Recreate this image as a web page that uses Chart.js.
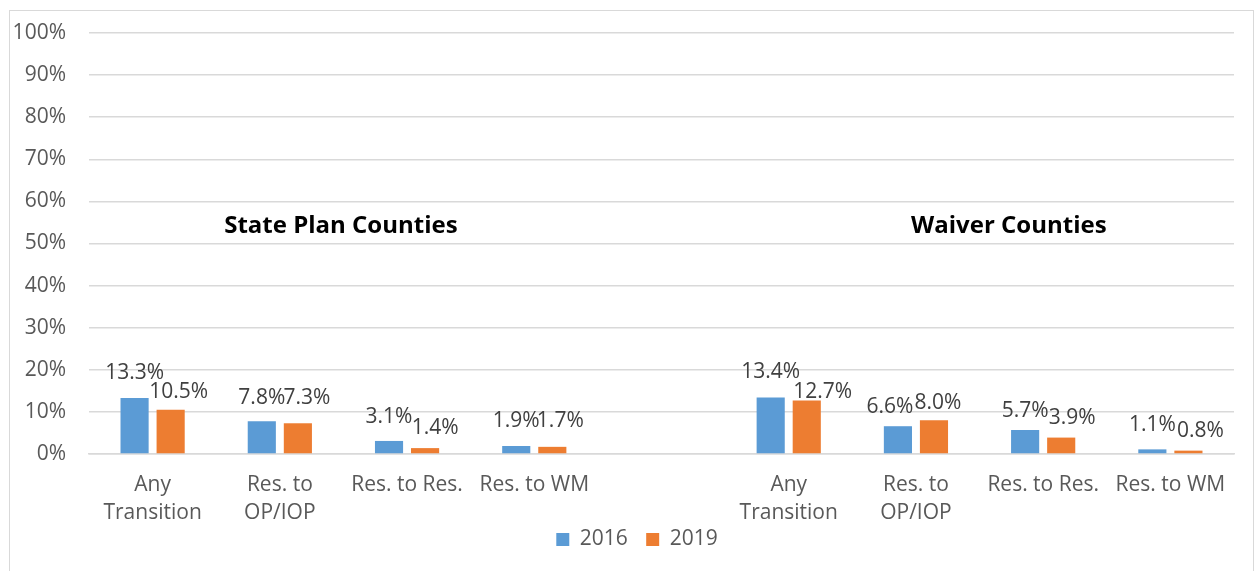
<!DOCTYPE html>
<html>
<head>
<meta charset="utf-8">
<script src="https://cdn.jsdelivr.net/npm/chart.js@4"></script>
<style>
  body { margin: 0; background: #fff; }
  #box { position: absolute; left: 9px; top: 10px; width: 1243px; height: 560px; border: 1px solid #d9d9d9; }
</style>
</head>
<body>
<div id="box"><canvas id="chart" width="1243" height="560"></canvas></div>
<script>
// categories (5th slot is the empty gap between the two groups)
const categories = [
  ["Any", "Transition"], ["Res. to", "OP/IOP"], "Res. to Res.", "Res. to WM",
  "",
  ["Any", "Transition"], ["Res. to", "OP/IOP"], "Res. to Res.", "Res. to WM"
];
const values2016 = [13.3, 7.8, 3.1, 1.9, null, 13.4, 6.6, 5.7, 1.1];
const values2019 = [10.5, 7.3, 1.4, 1.7, null, 12.7, 8.0, 3.9, 0.8];
const yTicks = [0, 10, 20, 30, 40, 50, 60, 70, 80, 90, 100];
const groupTitles = ["State Plan Counties", "Waiver Counties"];

const FONT = "'Open Sans', 'Noto Sans', sans-serif";

// label placement nudges [dx, height above bar top], as Excel shuffled them to avoid overlaps
const labelNudge = [
  [[0, 25], [0, 23], [0, 24], [0, 25], null, [0, 26], [-8, 19], [0, 19], [0, 24]],
  [[8, 18], [9, 25], [10, 20], [8, 26], null, [16, 9], [4, 17], [11, 20], [12, 20]]
];

// draws the percentage above each bar
const valueLabels = {
  id: 'valueLabels',
  afterDatasetsDraw(chart) {
    const ctx = chart.ctx;
    ctx.save();
    ctx.font = "21px " + FONT;
    ctx.fillStyle = "#404040";
    ctx.textAlign = "center";
    ctx.textBaseline = "middle";
    chart.data.datasets.forEach((ds, i) => {
      chart.getDatasetMeta(i).data.forEach((bar, j) => {
        if (ds.data[j] == null) return;
        const n = labelNudge[i][j] || [0, 22];
        ctx.fillText(ds.data[j].toFixed(1) + "%", bar.x + n[0], bar.y - n[1]);
      });
    });
    ctx.restore();
  }
};

// bold group titles inside the plot
const groupTitlePlugin = {
  id: 'groupTitles',
  afterDraw(chart) {
    const ctx = chart.ctx;
    const x = chart.scales.x, y = chart.scales.y;
    const at = (idx) => {
      const a = Math.floor(idx);
      const p0 = x.getPixelForTick(a), p1 = x.getPixelForTick(a + 1);
      return p0 + (p1 - p0) * (idx - a);
    };
    ctx.save();
    ctx.font = "bold 24px " + FONT;
    ctx.fillStyle = "#000";
    ctx.textAlign = "center";
    ctx.textBaseline = "middle";
    ctx.fillText(groupTitles[0], at(1.48), y.getPixelForValue(54.2));
    ctx.fillText(groupTitles[1], at(6.73), y.getPixelForValue(54.2));
    ctx.restore();
  }
};

// legend in the original sits a bit right of the canvas centre
const legendShift = {
  id: 'legendShift',
  afterLayout(chart) {
    chart.legend.left += 15;
    chart.legend.right += 15;
  }
};

new Chart(document.getElementById('chart'), {
  type: 'bar',
  data: {
    labels: categories,
    datasets: [
      { label: '2016', data: values2016, backgroundColor: '#5B9BD5' },
      { label: '2019', data: values2019, backgroundColor: '#ED7D31' }
    ]
  },
  options: {
    responsive: false,
    devicePixelRatio: 1,
    animation: false,
    categoryPercentage: 0.567,
    barPercentage: 0.78,
    layout: { padding: { top: 22, right: 19, bottom: 11, left: 0 } },
    plugins: {
      legend: {
        position: 'bottom',
        labels: {
          boxWidth: 13, boxHeight: 13, padding: 2,
          color: '#595959',
          font: { family: FONT, size: 21 },
          generateLabels(chart) {
            const items = Chart.defaults.plugins.legend.labels.generateLabels(chart);
            items[0].text += '   ';
            return items;
          }
        }
      },
      tooltip: { enabled: false }
    },
    scales: {
      y: {
        min: 0, max: 100,
        afterBuildTicks(scale) { scale.ticks = yTicks.map(v => ({ value: v })); },
        afterFit(scale) { scale.width = 79; scale.paddingTop = 0; },
        grid: { color: '#d9d9d9', lineWidth: 1.5, drawTicks: false },
        border: { display: false },
        ticks: {
          padding: 23,
          color: '#595959',
          font: { family: FONT, size: 21 },
          callback: v => v + '%'
        }
      },
      x: {
        afterFit(scale) { scale.height = 73; },
        grid: { display: false, drawTicks: false },
        border: { color: '#d9d9d9', width: 1.5 },
        ticks: {
          padding: 17,
          maxRotation: 0,
          autoSkip: false,
          color: '#595959',
          font: { family: FONT, size: 21, lineHeight: 1.33 }
        }
      }
    }
  },
  plugins: [valueLabels, groupTitlePlugin, legendShift]
});
</script>
</body>
</html>
